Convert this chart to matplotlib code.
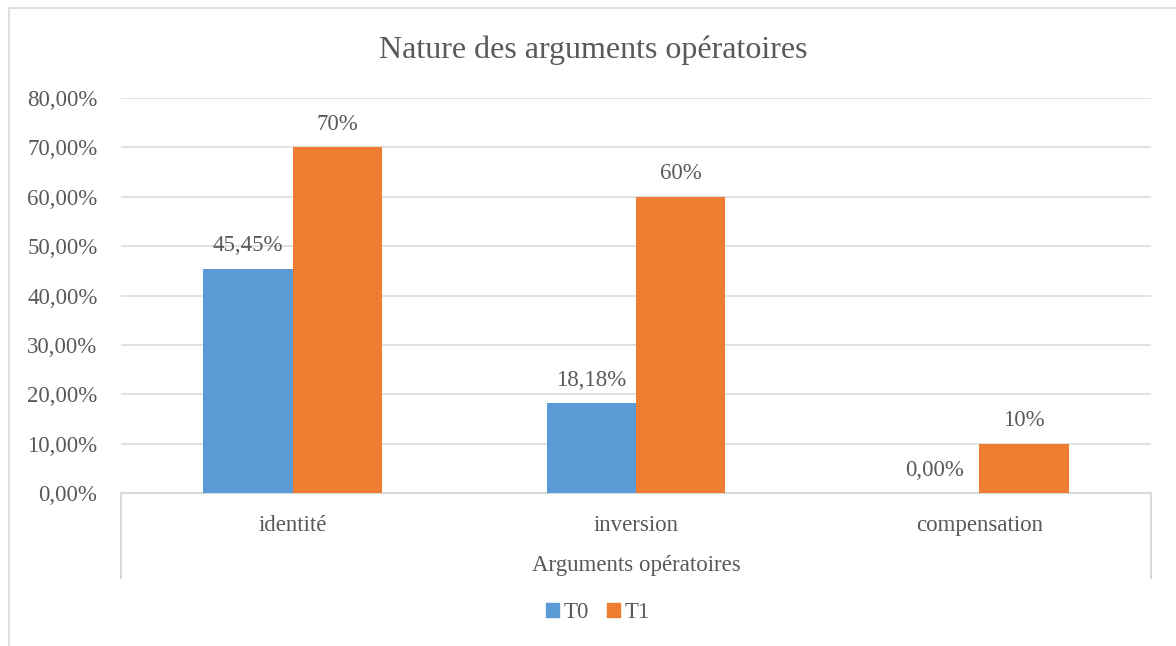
import matplotlib
matplotlib.use("Agg")
import matplotlib.pyplot as plt
import numpy as np
from matplotlib.patches import Rectangle
from matplotlib.lines import Line2D

categories = ["identité", "inversion", "compensation"]
series_names = ["T0", "T1"]
t0_values = [0.4545, 0.1818, 0.0]
t1_values = [0.70, 0.60, 0.10]
t0_labels = ["45,45%", "18,18%", "0,00%"]
t1_labels = ["70%", "60%", "10%"]
y_ticks = [0.0, 0.1, 0.2, 0.3, 0.4, 0.5, 0.6, 0.7, 0.8]

title = "Nature des arguments opératoires"
xlabel = "Arguments opératoires"

W, H = 1176, 646
C_T0 = "#5B9BD5"
C_T1 = "#ED7D31"
TXT = "#595959"
GRID = "#D9D9D9"
FONT = "Liberation Serif"

plt.rcParams["font.family"] = [FONT, "DejaVu Serif"]

fig = plt.figure(figsize=(W / 100, H / 100), dpi=100)

# outer chart border
fig.patches.append(Rectangle((8.5 / W, -0.1), 1.2, (646 - 7.5) / H + 0.1,
                             transform=fig.transFigure, fill=False,
                             edgecolor=GRID, linewidth=1.2))

left, right, top, bottom = 121, 1151, 98, 493
ax = fig.add_axes([left / W, (H - bottom) / H, (right - left) / W, (bottom - top) / H])

x = np.arange(len(categories))
bw = 0.26
b0 = ax.bar(x - bw / 2, t0_values, bw, color=C_T0, zorder=3)
b1 = ax.bar(x + bw / 2, t1_values, bw, color=C_T1, zorder=3)

for rect, lab in zip(b0, t0_labels):
    ax.annotate(lab, (rect.get_x() + rect.get_width() / 2, rect.get_height()),
                xytext=(0, 16.5), textcoords="offset points", ha="center", va="center",
                fontsize=16.5, color=TXT)
for rect, lab in zip(b1, t1_labels):
    ax.annotate(lab, (rect.get_x() + rect.get_width() / 2, rect.get_height()),
                xytext=(0, 16.5), textcoords="offset points", ha="center", va="center",
                fontsize=16.5, color=TXT)

ax.set_xlim(-0.5, len(categories) - 0.5)
ax.set_ylim(0, 0.8)
ax.set_yticks(y_ticks)
ax.set_yticklabels([f"{v*100:.2f}%".replace(".", ",") for v in y_ticks],
                   fontsize=16.5, color=TXT)
ax.tick_params(axis="y", length=0, pad=17)
ax.set_xticks(x)
ax.set_xticklabels(categories, fontsize=16.5, color=TXT)
ax.tick_params(axis="x", length=0, pad=15.5)
ax.grid(axis="y", color=GRID, linewidth=1.1, zorder=0)
for s in ["top", "right", "left"]:
    ax.spines[s].set_visible(False)
ax.spines["bottom"].set_color(GRID)
ax.spines["bottom"].set_linewidth(1.5)

# category box separators
sep_h = (578 - 493) / (493 - 98)
for xv in (0.0, 1.0):
    ax.add_line(Line2D([xv, xv], [0, -sep_h], transform=ax.transAxes,
                       color=GRID, linewidth=1.5, clip_on=False))

fig.text(636 / W, 1 - 565 / H, xlabel, ha="center", va="center", fontsize=16.5, color=TXT)
fig.text(593 / W, 1 - 50 / H, title, ha="center", va="center", fontsize=23, color=TXT)

# legend
handles = [Rectangle((0, 0), 1, 1, color=C_T0), Rectangle((0, 0), 1, 1, color=C_T1)]
fig.legend(handles, series_names, loc="center", bbox_to_anchor=(598 / W, 1 - 613 / H),
           ncol=2, frameon=False, fontsize=16.5, labelcolor=TXT,
           handlelength=0.55, handleheight=0.55, handletextpad=0.2, columnspacing=0.8)

fig.savefig("out.png", dpi=100)
